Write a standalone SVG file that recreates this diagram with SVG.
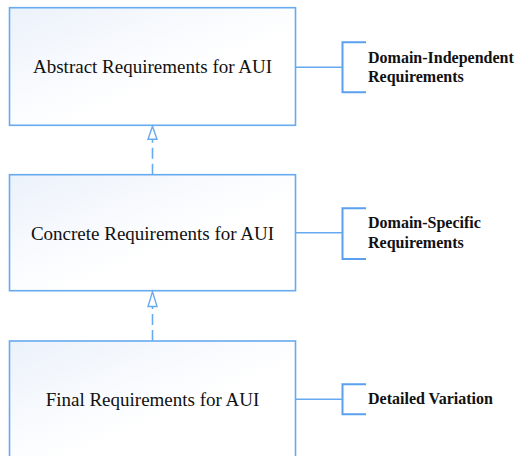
<svg xmlns="http://www.w3.org/2000/svg" width="519" height="456" viewBox="0 0 519 456">
<defs>
<linearGradient id="fill" x1="0" y1="0" x2="1" y2="1">
<stop offset="0" stop-color="#ecf2fb"/>
<stop offset="0.6" stop-color="#ffffff"/>
<stop offset="1" stop-color="#ffffff"/>
</linearGradient>
<style>
.box{fill:url(#fill);stroke:#66aaf0;stroke-width:1.6}
.main{font-family:"Liberation Serif",serif;font-size:19px;fill:#111;text-anchor:middle}
.side{font-family:"Liberation Serif",serif;font-size:16px;font-weight:bold;fill:#111}
.ln{fill:none;stroke:#66aaf0;stroke-width:1.4}
.br{fill:none;stroke:#5aa0ee;stroke-width:2}
.dash{fill:none;stroke:#66aaf0;stroke-width:1.6;stroke-dasharray:11 5}
.tri{fill:#fff;stroke:#66aaf0;stroke-width:1.4}
</style>
</defs>
<g id="node-abstract">
<rect class="box" x="9.5" y="7.7" width="286" height="117.6"/>
<text class="main" x="152.5" y="73.3">Abstract Requirements for AUI</text>
</g>
<g id="node-concrete">
<rect class="box" x="9.5" y="174.7" width="286" height="116"/>
<text class="main" x="152.5" y="240">Concrete Requirements for AUI</text>
</g>
<g id="node-final">
<rect class="box" x="9.5" y="341" width="286" height="118"/>
<text class="main" x="152.5" y="406">Final Requirements for AUI</text>
</g>
<g id="label-independent">
<path class="br" d="M366 42.3H342.5V92.3H366"/>
<text class="side" x="368" y="63.3">Domain-Independent</text>
<text class="side" x="368" y="81.7">Requirements</text>
</g>
<g id="label-specific">
<path class="br" d="M366 208.3H342.5V259H366"/>
<text class="side" x="368" y="228.3">Domain-Specific</text>
<text class="side" x="368" y="247.7">Requirements</text>
</g>
<g id="label-detailed">
<path class="br" d="M366 384.3H342.5V414.3H366"/>
<text class="side" x="368" y="404.3">Detailed Variation</text>
</g>
<g id="connectors">
<line class="dash" x1="152.5" y1="174.7" x2="152.5" y2="139.3"/>
<path class="tri" d="M152.5 126.2L157 139.3H148Z"/>
<line class="dash" x1="152.5" y1="341" x2="152.5" y2="306.5"/>
<path class="tri" d="M152.5 291.6L157 306.5H148Z"/>
<line class="ln" x1="295.5" y1="67.3" x2="342.5" y2="67.3"/>
<line class="ln" x1="295.5" y1="232.7" x2="342.5" y2="232.7"/>
<line class="ln" x1="295.5" y1="399.3" x2="342.5" y2="399.3"/>
</g>
</svg>
